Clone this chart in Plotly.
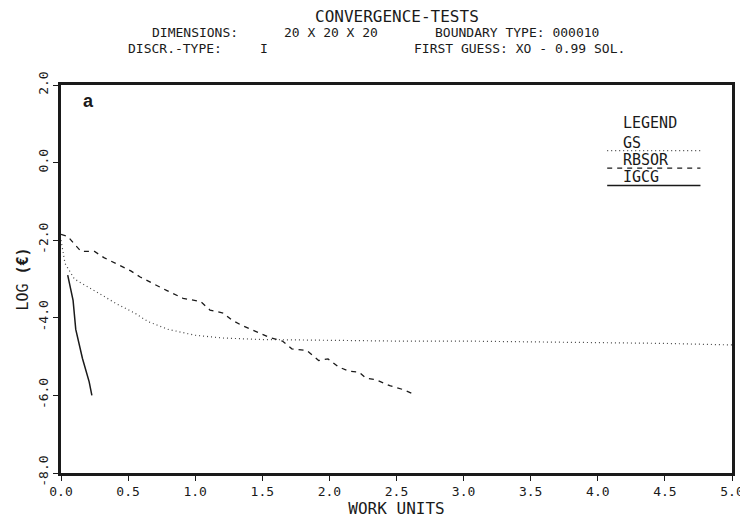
import plotly.graph_objects as go

# ---- data ----
gs_x = [0.0, 0.03, 0.1, 0.175, 0.3, 0.42, 0.55, 0.65, 0.8, 1.0, 1.2, 1.5, 2.0, 2.5, 3.0, 3.5, 4.0, 4.5, 5.0]
gs_y = [-2.0, -2.6, -3.0, -3.15, -3.42, -3.65, -3.88, -4.1, -4.3, -4.45, -4.52, -4.56, -4.58, -4.6, -4.6, -4.62, -4.64, -4.66, -4.7]

rbsor_x = [0.0, 0.05, 0.1, 0.15, 0.25, 0.32, 0.42, 0.52, 0.59, 0.69, 0.79, 0.91, 1.04, 1.11, 1.21, 1.27,
           1.35, 1.45, 1.55, 1.65, 1.72, 1.83, 1.92, 1.99, 2.07, 2.15, 2.22, 2.27, 2.35, 2.45, 2.55, 2.63]
rbsor_y = [-1.85, -1.9, -2.1, -2.29, -2.29, -2.45, -2.62, -2.79, -2.95, -3.13, -3.3, -3.5, -3.58, -3.8, -3.88, -4.05,
           -4.2, -4.35, -4.5, -4.6, -4.8, -4.84, -5.1, -5.06, -5.27, -5.38, -5.4, -5.55, -5.6, -5.75, -5.85, -5.97]

igcg_x = [0.05, 0.09, 0.11, 0.16, 0.21, 0.23]
igcg_y = [-2.9, -3.55, -4.3, -5.05, -5.65, -6.0]

x_tickvals = [0.0, 0.5, 1.0, 1.5, 2.0, 2.5, 3.0, 3.5, 4.0, 4.5, 5.0]
x_ticktext = ["0.0", "0.5", "1.0", "1.5", "2.0", "2.5", "3.0", "3.5", "4.0", "4.5", "5.0"]
y_tickvals = [-8.0, -6.0, -4.0, -2.0, 0.0, 2.0]
y_ticktext = ["-8.0", "-6.0", "-4.0", "-2.0", "0.0", "2.0"]

legend_names = ["GS", "RBSOR", "IGCG"]

FONT = "DejaVu Sans Mono"
INK = "#1a1a1a"

gs_line = dict(color="#444", width=1.2, dash="1px,3px")
rb_line = dict(color=INK, width=1.3, dash="5px,5px")
ig_line = dict(color=INK, width=1.5)

fig = go.Figure()
fig.add_trace(go.Scatter(x=gs_x, y=gs_y, mode="lines", name="GS", line=gs_line))
fig.add_trace(go.Scatter(x=rbsor_x, y=rbsor_y, mode="lines", name="RBSOR", line=rb_line))
fig.add_trace(go.Scatter(x=igcg_x, y=igcg_y, mode="lines", name="IGCG", line=ig_line))

# custom legend (text with line underneath)
styles = [gs_line, rb_line, ig_line]
line_y = [0.831, 0.786, 0.741]
shapes = []
annotations = []
for name, st, ly in zip(legend_names, styles, line_y):
    shapes.append(dict(type="line", xref="paper", yref="paper", x0=0.814, x1=0.953,
                       y0=ly, y1=ly, line=st))
    annotations.append(dict(text=name, xref="paper", yref="paper", x=0.836, y=ly - 0.005,
                            xanchor="left", yanchor="bottom", showarrow=False, borderpad=0,
                            font=dict(family=FONT, size=15, color=INK)))
annotations.append(dict(text="LEGEND", xref="paper", yref="paper", x=0.878, y=0.902,
                        xanchor="center", yanchor="middle", showarrow=False, borderpad=0,
                        font=dict(family=FONT, size=15, color=INK)))
annotations.append(dict(text="<b>a</b>", xref="paper", yref="paper", x=0.03, y=0.96,
                        xanchor="left", yanchor="middle", showarrow=False,
                        font=dict(family="Liberation Sans", size=18, color=INK)))

# header texts
def head(text, x, yshift, size, anchor="left"):
    annotations.append(dict(text=text, xref="paper", yref="paper", x=x, y=1.0, yshift=yshift,
                            xanchor=anchor, yanchor="middle", showarrow=False, borderpad=0,
                            font=dict(family=FONT, size=size, color=INK)))

head("CONVERGENCE-TESTS", 0.5, 69, 16, "center")
head("DIMENSIONS:", 0.134, 53, 13)
head("20 X 20 X 20", 0.331, 53, 13)
head("BOUNDARY TYPE: 000010", 0.556, 53, 13)
head("DISCR.-TYPE:", 0.098, 37, 13)
head("I", 0.295, 37, 13)
head("FIRST GUESS: XO - 0.99 SOL.", 0.525, 37, 13)

fig.update_layout(
    width=748, height=519,
    margin=dict(l=53, r=19, t=77, b=46),
    paper_bgcolor="white", plot_bgcolor="white",
    showlegend=False,
    shapes=shapes, annotations=annotations,
    font=dict(family=FONT, color=INK),
)
fig.update_xaxes(range=[0, 5], tickvals=x_tickvals, ticktext=x_ticktext,
                 showgrid=False, zeroline=False, showline=True, linecolor=INK, linewidth=2.5,
                 mirror=True, ticks="outside", ticklen=5, tickcolor=INK,
                 tickfont=dict(family=FONT, size=13),
                 title=dict(text="WORK UNITS", font=dict(family=FONT, size=16), standoff=4))
fig.update_yaxes(range=[-8, 2], tickvals=y_tickvals, ticktext=y_ticktext, tickangle=-90,
                 showgrid=False, zeroline=False, showline=True, linecolor=INK, linewidth=2.5,
                 mirror=True, ticks="outside", ticklen=5, tickcolor=INK,
                 tickfont=dict(family=FONT, size=13),
                 title=dict(text="LOG <b>(€)</b>", font=dict(family=FONT, size=15), standoff=4))

fig.write_html("out.html")
